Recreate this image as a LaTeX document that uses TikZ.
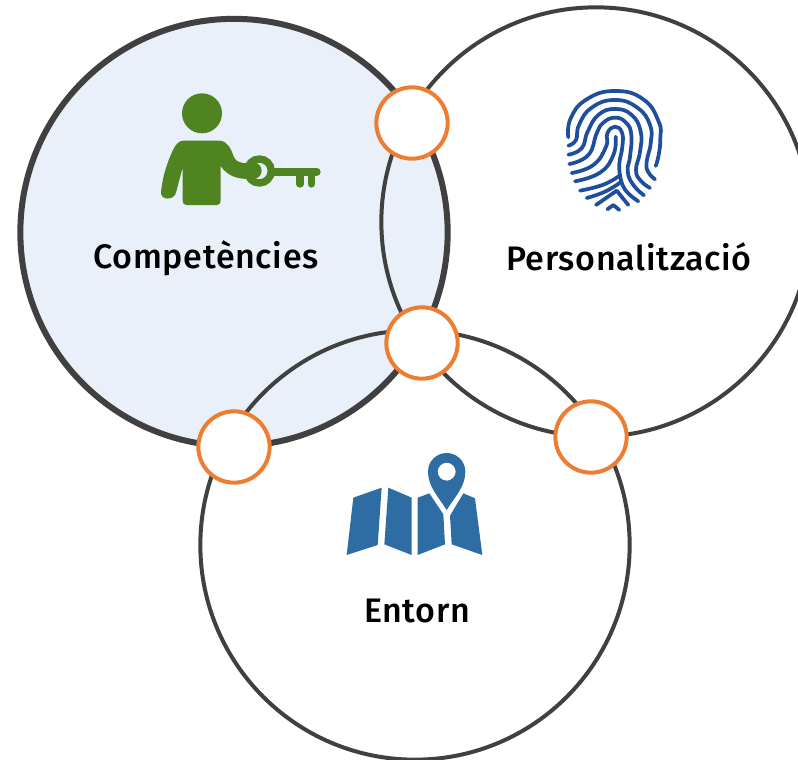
\documentclass[tikz,border=0pt]{standalone}
\usepackage{fontspec}
\setmainfont{Fira Sans Medium}[LetterSpace=2]
\definecolor{ringdark}{HTML}{404040}
\definecolor{orangering}{HTML}{ED7D31}
\definecolor{paleblue}{HTML}{E9F0FA}
\definecolor{keygreen}{HTML}{4F8420}
\definecolor{printblue}{HTML}{1F4E9C}
\definecolor{mapblue}{HTML}{2E6DA4}
\tikzset{
  bigring/.style={circle,draw=ringdark,line width=3pt,minimum size=322pt,inner sep=0pt},
  smallring/.style={circle,draw=orangering,fill=white,line width=3pt,minimum size=53.5pt,inner sep=0pt},
  lbl/.style={font=\fontsize{25.5}{30}\selectfont,text=black,inner sep=0pt},
  ridge/.style={draw=printblue,line width=2.8pt,line cap=round,line join=round}
}
\begin{document}
\begin{tikzpicture}[x=0.75pt,y=-0.75pt]
\useasboundingbox (0,0) rectangle (798,759);
\clip (0,0) rectangle (798,759);
\node[bigring,fill=paleblue,line width=4.5pt,minimum size=320.5pt] (comp) at (234,232.5) {};
\node[bigring] (pers) at (596,222) {};
\node[bigring] (ent) at (415,545) {};
\node[smallring] (a) at (412,123) {};
\node[smallring] (b) at (422,343) {};
\node[smallring] (c) at (234,447) {};
\node[smallring] (d) at (591,437) {};
\node[lbl] (t1) at (206,258) {Competències};
\node[lbl] (t2) at (629,257) {Personalització};
\node[lbl] (t3) at (417,611) {Entorn};
% person with key
\begin{scope}[shift={(140,80)},x=0.25pt,y=-0.25pt]
\fill[keygreen] (186,100) circle (60);
\fill[keygreen] (130,182) -- (240,182) .. controls (265,186) and (272,205) .. (282,232)
  .. controls (288,246) and (305,250) .. (325,250) -- (345,296) .. controls (315,298) and (270,300) .. (242,258)
  -- (242,362) .. controls (242,371) and (238,375) .. (230,375) -- (140,375) .. controls (132,375) and (128,371) .. (128,362)
  -- (128,262) -- (108,338) .. controls (102,362) and (60,362) .. (63,335)
  .. controls (68,290) and (80,250) .. (100,208) .. controls (108,192) and (118,182) .. (130,182) -- cycle;
\draw[keygreen,line width=5.5pt] (358,273) circle (36);
\fill[keygreen] (340,272) circle (25);
\draw[keygreen,line width=6pt,line cap=round] (400,275) -- (530,275);
\draw[keygreen,line width=5.5pt,line cap=round] (480,280) -- (480,312);
\draw[keygreen,line width=5.5pt,line cap=round] (514,280) -- (514,312);
\end{scope}
% fingerprint
\begin{scope}[shift={(550,80)},x=0.25pt,y=-0.25pt]
\draw[ridge] plot[smooth,tension=0.8] coordinates {(55,172) (62,115) (110,58) (195,33) (280,58) (326,125) (331,175) (326,225) (317,258)};
\draw[ridge] plot[smooth,tension=0.8] coordinates {(55,197) (78,180) (87,135) (125,83) (195,60) (262,83) (300,135) (302,190) (290,245) (294,275) (315,298)};
\draw[ridge] plot[smooth,tension=0.8] coordinates {(55,224) (95,205) (113,155) (145,105) (195,87) (245,105) (272,155) (270,215) (258,270) (272,302) (300,324)};
\draw[ridge] plot[smooth,tension=0.8] coordinates {(58,252) (115,225) (140,160) (160,128) (195,113) (228,128) (244,165) (240,230) (233,274) (250,315) (282,346)};
\draw[ridge] plot[smooth,tension=0.8] coordinates {(65,279) (130,255) (168,200) (172,160) (195,140) (216,158) (217,200) (208,250) (210,286)};
\draw[ridge] plot[smooth,tension=0.8] coordinates {(75,304) (150,278) (190,225) (197,170)};
\draw[ridge] plot[smooth,tension=0.8] coordinates {(90,332) (160,314) (210,286)};
\draw[ridge] plot[smooth,tension=0.8] coordinates {(210,286) (225,329) (265,364)};
\draw[ridge] plot[smooth,tension=0.8] coordinates {(110,354) (165,335) (213,306)};
\draw[ridge] (138,375) -- (200,332) -- (235,375);
\draw[ridge] (172,388) -- (190,375) -- (208,390);
\end{scope}
% map
\begin{scope}[shift={(335,445)},x=0.25pt,y=-0.25pt]
\fill[mapblue] (55,158) -- (140,128) -- (128,300) -- (35,330) -- cycle;
\fill[mapblue] (160,128) -- (230,158) -- (230,330) -- (148,298) -- cycle;
\fill[mapblue] (248,158) -- (283,145) -- (325,208) -- (330,298) -- (248,330) -- cycle;
\fill[mapblue] (345,212) -- (385,145) -- (420,160) -- (442,330) -- (350,298) -- cycle;
\fill[mapblue,even odd rule] (335,195) .. controls (310,155) and (279,125) .. (279,80) .. controls (279,48) and (305,24) .. (335,24) .. controls (365,24) and (391,48) .. (391,80) .. controls (391,125) and (360,155) .. (335,195) -- cycle (335,80) circle (27);
\end{scope}
\end{tikzpicture}
\end{document}
